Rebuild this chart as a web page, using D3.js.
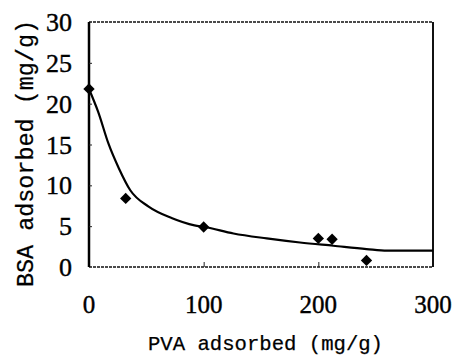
<!DOCTYPE html>
<html>
<head>
<meta charset="utf-8">
<script src="https://cdn.jsdelivr.net/npm/d3@7"></script>
<style>
  body { margin: 0; background: #fff; }
  svg { display: block; }
</style>
</head>
<body>
<script>
// measured points
const pvaX = [0, 32, 100, 200, 212, 242];
const bsaY = [21.8, 8.4, 4.9, 3.5, 3.4, 0.8];

// fitted curve
const fitX = [0, 8, 17, 26, 36, 52, 72, 92, 101, 126, 155, 184, 213, 242, 260, 300];
const fitY = [21.8, 19.0, 15.1, 12.1, 9.4, 7.4, 6.0, 5.1, 4.9, 4.1, 3.5, 3.0, 2.6, 2.2, 2.0, 2.0];

const xTicks = [0, 100, 200, 300];
const yTicks = [0, 5, 10, 15, 20, 25, 30];

const width = 456;
const height = 358;
const plotL = 89, plotR = 433, plotT = 22, plotB = 267;

const svg = d3.select("body")
  .append("svg")
  .attr("width", width)
  .attr("height", height);

const x = d3.scaleLinear().domain([0, 300]).range([plotL, plotR]);
const y = d3.scaleLinear().domain([0, 30]).range([plotB, plotT]);

// frame: top and bottom speckled, left solid and heavy
svg.append("line")
  .attr("x1", plotL).attr("x2", plotR).attr("y1", plotT).attr("y2", plotT)
  .attr("stroke", "#111").attr("stroke-width", 1.5)
  .attr("stroke-dasharray", "3,1");
svg.append("line")
  .attr("x1", plotL).attr("x2", plotR).attr("y1", plotB).attr("y2", plotB)
  .attr("stroke", "#111").attr("stroke-width", 1.6)
  .attr("stroke-dasharray", "3,1");
svg.append("line")
  .attr("x1", plotR).attr("x2", plotR).attr("y1", plotT).attr("y2", plotB)
  .attr("stroke", "#111").attr("stroke-width", 2);
svg.append("line")
  .attr("x1", plotL).attr("x2", plotL).attr("y1", plotT).attr("y2", plotB)
  .attr("stroke", "#000").attr("stroke-width", 2.5);

// inner ticks
const yAxis = d3.axisRight(y).tickValues(yTicks.slice(1, -1)).tickSize(3).tickFormat("");
svg.append("g")
  .attr("transform", `translate(${plotL},0)`)
  .call(yAxis)
  .call(g => g.select(".domain").remove())
  .selectAll("line").attr("stroke", "#222").attr("stroke-width", 1);

const xAxis = d3.axisTop(x).tickValues(xTicks.slice(1, -1)).tickSize(5).tickFormat("");
svg.append("g")
  .attr("transform", `translate(0,${plotB})`)
  .call(xAxis)
  .call(g => g.select(".domain").remove())
  .selectAll("line").attr("stroke", "#222").attr("stroke-width", 1);

// tick labels
svg.append("g")
  .selectAll("text")
  .data(yTicks)
  .enter()
  .append("text")
  .attr("x", 72)
  .attr("y", d => y(d) + 9)
  .attr("text-anchor", "end")
  .attr("font-family", "Liberation Serif")
  .attr("font-size", 26)
  .attr("stroke", "#000")
  .attr("stroke-width", 0.4)
  .text(d => d);

svg.append("g")
  .selectAll("text")
  .data(xTicks)
  .enter()
  .append("text")
  .attr("x", d => x(d))
  .attr("y", 313)
  .attr("text-anchor", "middle")
  .attr("font-family", "Liberation Serif")
  .attr("font-size", 25)
  .attr("stroke", "#000")
  .attr("stroke-width", 0.4)
  .text(d => d);

// axis titles
svg.append("text")
  .attr("x", 148)
  .attr("y", 350)
  .attr("textLength", 235)
  .attr("lengthAdjust", "spacingAndGlyphs")
  .attr("font-family", "Liberation Mono")
  .attr("font-size", 21)
  .attr("stroke", "#000")
  .attr("stroke-width", 0.25)
  .text("PVA adsorbed (mg/g)");

svg.append("text")
  .attr("transform", "translate(33,287) rotate(-90)")
  .attr("textLength", 267)
  .attr("lengthAdjust", "spacingAndGlyphs")
  .attr("font-family", "Liberation Mono")
  .attr("font-size", 24)
  .attr("stroke", "#000")
  .attr("stroke-width", 0.25)
  .text("BSA adsorbed (mg/g)");

// curve
const line = d3.line()
  .x((d, i) => x(fitX[i]))
  .y(d => y(d))
  .curve(d3.curveMonotoneX);

svg.append("path")
  .datum(fitY)
  .attr("d", line)
  .attr("fill", "none")
  .attr("stroke", "#000")
  .attr("stroke-width", 2.2);

// diamonds
svg.append("g")
  .selectAll("path")
  .data(bsaY)
  .enter()
  .append("path")
  .attr("transform", (d, i) => `translate(${x(pvaX[i])},${y(d)}) rotate(45)`)
  .attr("d", d3.symbol(d3.symbolSquare, 64))
  .attr("fill", "#000");
</script>
</body>
</html>
